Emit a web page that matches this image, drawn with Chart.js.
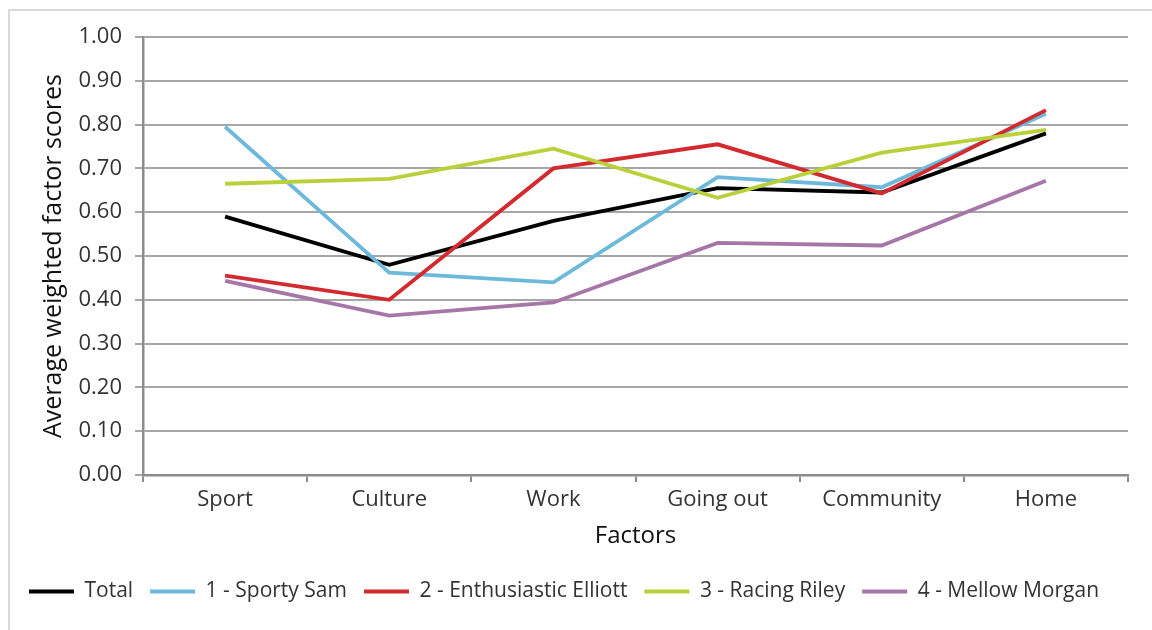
<!DOCTYPE html>
<html>
<head>
<meta charset="utf-8">
<script src="https://cdn.jsdelivr.net/npm/chart.js@4"></script>
<style>
  html, body { margin: 0; padding: 0; background: #fff; overflow: hidden; }
  #frame { position: absolute; left: 8px; top: 9px; width: 2000px; height: 2000px; border: 2px solid #d9d9d9; }
  #wrap { position: absolute; left: 0; top: 0; width: 1152px; height: 630px; }
</style>
</head>
<body>
<div id="frame"></div>
<div id="wrap"><canvas id="myChart"></canvas></div>
<script>
const factors = ['Sport', 'Culture', 'Work', 'Going out', 'Community', 'Home']
const seriesNames = ['Total', '1 - Sporty Sam', '2 - Enthusiastic Elliott', '3 - Racing Riley', '4 - Mellow Morgan']
const seriesColors = ['#000000', '#6db9dc', '#d22a2e', '#b9d03a', '#a776a8']

const total = [0.59, 0.48, 0.58, 0.655, 0.645, 0.78]
const sportySam = [0.795, 0.462, 0.44, 0.68, 0.657, 0.825]
const enthusiasticElliott = [0.455, 0.40, 0.70, 0.755, 0.643, 0.833]
const racingRiley = [0.665, 0.676, 0.745, 0.633, 0.736, 0.788]
const mellowMorgan = [0.443, 0.364, 0.394, 0.53, 0.524, 0.672]

const yTicks = { min: 0, max: 1, step: 0.1 }

const seriesValues = [total, sportySam, enthusiasticElliott, racingRiley, mellowMorgan]

const ctx = document.getElementById('myChart')

Chart.defaults.font.family = '"Open Sans", "Noto Sans", sans-serif'
Chart.defaults.color = '#333333'

const datasets = seriesNames.map((name, i) => ({
    label: name,
    data: seriesValues[i],
    borderColor: seriesColors[i],
    backgroundColor: seriesColors[i],
    borderWidth: 3.8,
    pointRadius: 0,
    pointHoverRadius: 0,
    tension: 0,
    order: seriesNames.length - i
}))

const chart = new Chart(ctx, {
    type: 'line',
    data: {
        labels: factors,
        datasets: datasets
    },
    options: {
        responsive: true,
        maintainAspectRatio: false,
        animation: false,
        layout: {
            padding: { left: 0, right: 24, top: 37, bottom: 18 }
        },
        plugins: {
            tooltip: { enabled: false },
            legend: {
                position: 'bottom',
                labels: {
                    usePointStyle: true,
                    pointStyle: 'line',
                    pointStyleWidth: 45,
                    padding: 17,
                    color: '#333333',
                    font: { size: 21 },
                    sort: (a, b) => a.datasetIndex - b.datasetIndex
                }
            }
        },
        scales: {
            x: {
                offset: true,
                grid: {
                    display: true,
                    offset: true,
                    drawOnChartArea: false,
                    drawTicks: true,
                    tickLength: 7,
                    color: '#8c8c8c',
                    lineWidth: 2
                },
                border: { color: '#8c8c8c', width: 2.5 },
                ticks: { font: { size: 22 }, padding: 5, color: '#333333' },
                title: {
                    display: true,
                    text: 'Factors',
                    font: { size: 24 },
                    color: '#111111',
                    padding: { top: 0, bottom: 13 }
                },
                afterFit: (scale) => { scale.height = 89 }
            },
            y: {
                min: yTicks.min,
                max: yTicks.max,
                grid: {
                    color: '#a6a6a6',
                    lineWidth: 2,
                    drawTicks: true,
                    tickLength: 8
                },
                border: { color: '#8c8c8c', width: 2.5 },
                ticks: {
                    stepSize: yTicks.step,
                    padding: 13,
                    font: { size: 22 },
                    color: '#333333',
                    callback: (v) => v.toFixed(2)
                },
                title: {
                    display: true,
                    text: 'Average weighted factor scores',
                    font: { size: 25 },
                    color: '#111111',
                    padding: { top: 39, bottom: 0 }
                },
                afterFit: (scale) => { scale.width = 143 }
            }
        }
    }
})
</script>
</body>
</html>
